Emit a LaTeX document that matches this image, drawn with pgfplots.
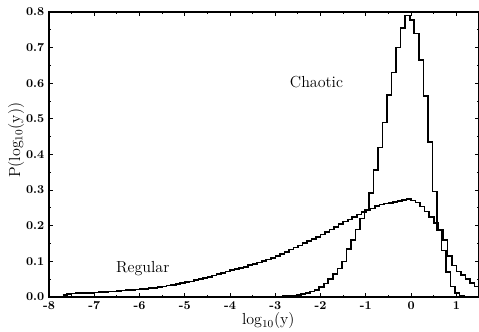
\documentclass[border=0pt]{standalone}
\usepackage{pgfplots}
\pgfplotsset{compat=1.18}
\begin{document}
\begin{tikzpicture}
\begin{axis}[
  name=ax,
  scale only axis,
  width=322.5pt, height=213.75pt,
  xmin=-8, xmax=1.5, ymin=0, ymax=0.8,
  xtick={-8,-7,-6,-5,-4,-3,-2,-1,0,1},
  ytick={0,0.1,0.2,0.3,0.4,0.5,0.6,0.7,0.8},
  minor x tick num=1, minor y tick num=1,
  tick align=inside,
  major tick length=3pt, minor tick length=1.5pt,
  axis line style={line width=1.4pt},
  tick style={line width=0.7pt, black},
  ticklabel style={font=\small\bfseries},
  /pgf/number format/assume math mode=true,
  yticklabel style={/pgf/number format/fixed, /pgf/number format/fixed zerofill, /pgf/number format/precision=1},
  xlabel={log$_{10}$(y)},
  ylabel={P(log$_{10}$(y))},
  xlabel style={font=\large, at={(axis description cs:0.51,-0.083)}, anchor=center},
  ylabel style={font=\large, at={(axis description cs:-0.0767,0.55)}, anchor=center},
  clip=false,
]
\addplot[const plot mark left, black, line width=1.2pt, mark=none] coordinates {
(-2.93,0.001) (-2.83,0.002) (-2.73,0.003) (-2.63,0.004) (-2.53,0.006)
(-2.43,0.008) (-2.33,0.011) (-2.23,0.015) (-2.13,0.020) (-2.03,0.028)
(-1.93,0.038) (-1.83,0.050) (-1.73,0.065) (-1.63,0.080) (-1.53,0.100)
(-1.43,0.135) (-1.33,0.160) (-1.23,0.190) (-1.13,0.220) (-1.03,0.245)
(-0.93,0.292) (-0.83,0.357) (-0.73,0.420) (-0.63,0.490) (-0.53,0.567)
(-0.43,0.630) (-0.33,0.700) (-0.23,0.755) (-0.13,0.790) (-0.03,0.777)
(0.07,0.740) (0.17,0.665) (0.27,0.565) (0.37,0.435) (0.47,0.296)
(0.57,0.188) (0.67,0.130) (0.77,0.070) (0.87,0.030) (0.97,0.012)
(1.07,0.004) (1.17,0.000)
};
\addplot[const plot mark left, black, line width=1.2pt, mark=none] coordinates {
(-7.7,0.006) (-7.6,0.009) (-7.5,0.010) (-7.4,0.011) (-7.3,0.011)
(-7.2,0.012) (-7.1,0.012) (-7.0,0.013) (-6.9,0.014) (-6.8,0.014)
(-6.7,0.015) (-6.6,0.016) (-6.5,0.017) (-6.4,0.018) (-6.3,0.019)
(-6.2,0.020) (-6.1,0.021) (-6.0,0.022) (-5.9,0.023) (-5.8,0.025)
(-5.7,0.026) (-5.6,0.028) (-5.5,0.030) (-5.4,0.032) (-5.3,0.034)
(-5.2,0.036) (-5.1,0.039) (-5.0,0.042) (-4.9,0.044) (-4.8,0.047)
(-4.7,0.050) (-4.6,0.053) (-4.5,0.056) (-4.4,0.060) (-4.3,0.064)
(-4.2,0.068) (-4.1,0.072) (-4.0,0.075) (-3.9,0.078) (-3.8,0.081)
(-3.7,0.085) (-3.6,0.089) (-3.5,0.093) (-3.4,0.097) (-3.3,0.101)
(-3.2,0.105) (-3.1,0.110) (-3.0,0.115) (-2.9,0.121) (-2.8,0.127)
(-2.7,0.133) (-2.6,0.139) (-2.5,0.145) (-2.4,0.151) (-2.3,0.157)
(-2.2,0.163) (-2.1,0.169) (-2.0,0.175) (-1.9,0.182) (-1.8,0.190)
(-1.7,0.197) (-1.6,0.205) (-1.5,0.212) (-1.4,0.218) (-1.3,0.225)
(-1.2,0.232) (-1.1,0.238) (-1.0,0.243) (-0.9,0.248) (-0.8,0.255)
(-0.7,0.260) (-0.6,0.262) (-0.5,0.264) (-0.4,0.267) (-0.3,0.270)
(-0.2,0.273) (-0.1,0.275) (0.0,0.271) (0.1,0.265) (0.2,0.254)
(0.3,0.240) (0.4,0.225) (0.5,0.207) (0.6,0.188) (0.7,0.160)
(0.8,0.115) (0.9,0.088) (1.0,0.072) (1.1,0.062) (1.2,0.050)
(1.3,0.040) (1.4,0.030) (1.5,0.030)
};
\node[font=\large] at (axis cs:-2.09,0.603) {Chaotic};
\node[font=\large] at (axis cs:-5.93,0.081) {Regular};
\end{axis}
\pgfresetboundingbox
\path[use as bounding box] ([xshift=-36.75pt,yshift=-25.5pt]ax.south west) rectangle ([yshift=9pt]ax.north east);
\end{tikzpicture}
\end{document}
